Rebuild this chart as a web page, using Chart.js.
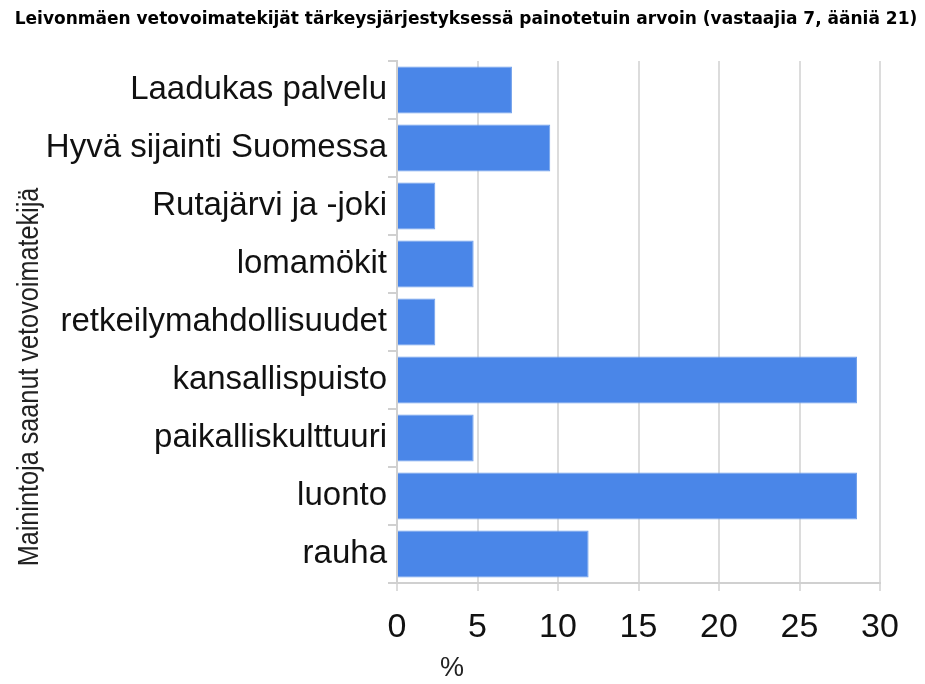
<!DOCTYPE html>
<html>
<head>
<meta charset="utf-8">
<script src="https://cdn.jsdelivr.net/npm/chart.js@4/dist/chart.umd.min.js"></script>
<style>
  body { margin: 0; background: #fff; }
  #wrap { width: 925px; height: 684px; }
</style>
</head>
<body>
<div id="wrap"><canvas id="myChart" width="925" height="684"></canvas></div>
<script>
let chartTitle = "Leivonmäen vetovoimatekijät tärkeysjärjestyksessä painotetuin arvoin (vastaajia 7, ääniä 21)";
let yTitle = "Mainintoja saanut vetovoimatekijä";
let xTitle = "%";

let categories = [
    "Laadukas palvelu",
    "Hyvä sijainti Suomessa",
    "Rutajärvi ja -joki",
    "lomamökit",
    "retkeilymahdollisuudet",
    "kansallispuisto",
    "paikalliskulttuuri",
    "luonto",
    "rauha"
];
let percentages = [7.14, 9.52, 2.38, 4.76, 2.38, 28.57, 4.76, 28.57, 11.9];
let xTicks = [0, 5, 10, 15, 20, 25, 30];

// titles drawn where the original had them (not centred on the plot)
const chartTexts = {
    id: "chartTexts",
    afterDraw(chart) {
        let ctx = chart.ctx;
        let area = chart.chartArea;
        ctx.save();
        ctx.fillStyle = "#000";
        ctx.font = "bold 17px 'DejaVu Sans', sans-serif";
        ctx.textAlign = "center";
        ctx.textBaseline = "alphabetic";
        ctx.fillText(chartTitle, 466, 24);

        ctx.fillStyle = "#222";
        ctx.font = "27px 'Liberation Sans', Arial, sans-serif";
        ctx.textBaseline = "middle";
        ctx.fillText(xTitle, area.left + 55, 669);

        ctx.translate(30, 377);
        ctx.rotate(-Math.PI / 2);
        ctx.scale(0.87, 1);
        ctx.font = "29px 'Liberation Sans', Arial, sans-serif";
        ctx.fillText(yTitle, 0, 0);
        ctx.restore();
    }
};

let ctx = document.getElementById("myChart").getContext("2d");
let chartOne = new Chart(ctx, {
    type: "bar",
    data: {
        labels: categories,
        datasets: [
            {
                label: "%",
                data: percentages,
                backgroundColor: "#4a86e8",
                borderColor: "#6d9eeb",
                borderWidth: 1,
                barPercentage: 0.81,
                categoryPercentage: 1
            }
        ]
    },
    plugins: [chartTexts],
    options: {
        indexAxis: "y",
        responsive: false,
        animation: false,
        layout: { padding: { left: 0, right: 45, top: 61, bottom: 0 } },
        plugins: {
            legend: { display: false },
            tooltip: { enabled: false },
            title: { display: false }
        },
        scales: {
            x: {
                min: 0,
                max: 30,
                afterBuildTicks: (scale) => { scale.ticks = xTicks.map(v => ({ value: v })); },
                afterFit: (scale) => { scale.height = 684 - 583; },
                grid: { color: "#dcdcdc", lineWidth: 2, tickLength: 8 },
                border: { color: "#d0d0d0", width: 2 },
                ticks: {
                    color: "#111",
                    padding: 16,
                    font: { family: "'Liberation Sans'", size: 34 }
                }
            },
            y: {
                afterFit: (scale) => { scale.width = 397; },
                grid: { drawOnChartArea: false, color: "#d0d0d0", lineWidth: 2, tickLength: 9, offset: true },
                border: { color: "#d0d0d0", width: 2 },
                ticks: {
                    color: "#111",
                    padding: 1,
                    font: { family: "'Liberation Sans'", size: 33 }
                }
            }
        }
    }
});
</script>
</body>
</html>
